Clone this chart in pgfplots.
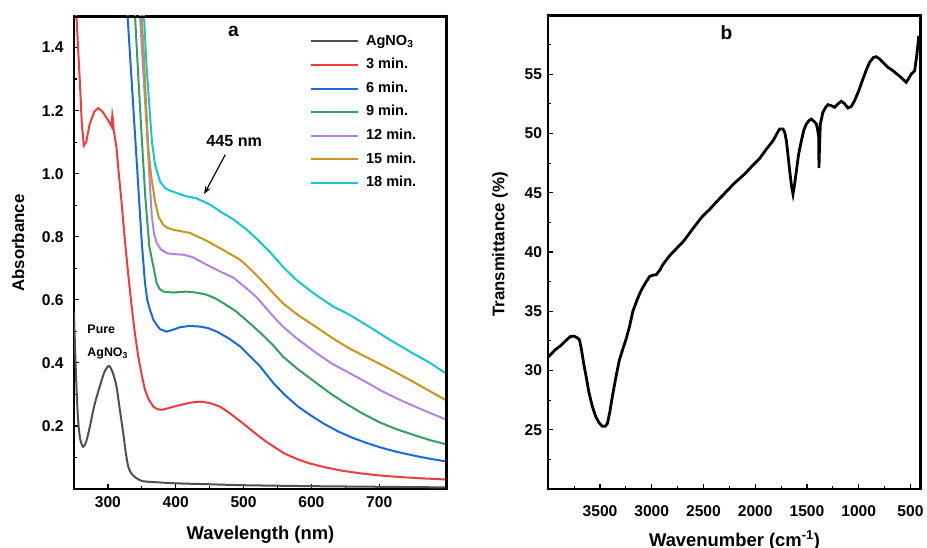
\documentclass[border=0pt]{standalone}
\usepackage{fontspec}
\setmainfont{Liberation Sans}
\usepackage{pgfplots}
\pgfplotsset{compat=1.18}
\usetikzlibrary{arrows.meta}
\definecolor{cgray}{RGB}{80,80,80}
\definecolor{cred}{RGB}{240,60,60}
\definecolor{cblue}{RGB}{25,105,225}
\definecolor{cgreen}{RGB}{50,160,95}
\definecolor{cpurple}{RGB}{180,130,225}
\definecolor{cgold}{RGB}{200,150,25}
\definecolor{ccyan}{RGB}{20,200,205}
\pgfplotsset{
  common/.style={
    scale only axis,
    axis line style={black, line width=1.3pt},
    tick style={line width=0.9pt, black},
    tick align=inside,
    xtick pos=bottom, ytick pos=left,
    major tick length=3.75pt, minor tick length=2.25pt,
    /pgf/number format/assume math mode=true,
    ticklabel style={font=\bfseries\fontsize{11.7}{13}\selectfont},
    clip=true,
  }
}
\begin{document}
\begin{tikzpicture}
\useasboundingbox (0,0) rectangle (695.25pt,411pt);
% ---------------- panel a ----------------
\begin{axis}[common,
  name=pa,
  at={(55.5pt,44.25pt)}, anchor=south west,
  width=279.75pt, height=354.75pt,
  xmin=250, xmax=800, ymin=0, ymax=1.5,
  xtick={300,400,500,600,700},
  minor xtick={350,450,550,650,750},
  ytick={0.2,0.4,0.6,0.8,1.0,1.2,1.4},
  minor ytick={0.1,0.3,0.5,0.7,0.9,1.1,1.3},
  yticklabel style={/pgf/number format/.cd, fixed, fixed zerofill, precision=1},
  xticklabel shift=2.5pt, yticklabel shift=4.3pt,
  xlabel={\bfseries\fontsize{13.8}{15}\selectfont Wavelength (nm)},
  ylabel={\bfseries\fontsize{12.6}{14}\selectfont Absorbance},
  xlabel style={at={(axis description cs:0.5,-0.0973)}, anchor=center},
  ylabel style={at={(axis description cs:-0.150,0.520)}, anchor=center},
  legend style={draw=none, fill=none, inner sep=0pt, outer sep=0pt,
    at={(axis description cs:0.633,0.961)}, anchor=north west,
    font=\bfseries\fontsize{10.9}{12}\selectfont,
    nodes={inner sep=0pt, text height=8pt, text depth=2.5pt},
    row sep=7.2pt, column sep=5.5pt},
  legend cell align=left,
  legend image code/.code={\draw[#1] (0pt,0pt) -- (35pt,0pt);},
]
\addplot[cgray, line width=1.5pt, smooth] coordinates {
(250,0.56) (251.5,0.45) (253.5,0.33) (256,0.22) (259,0.16) (263.5,0.134) (268,0.15)
(273.4,0.198) (280,0.265) (288,0.325) (295,0.372) (301.5,0.390) (307,0.37) (312.7,0.325)
(317,0.26) (322.6,0.177) (326,0.12) (330,0.071) (335,0.048) (342.3,0.034) (351,0.025)
(367,0.022) (400,0.018) (450,0.015) (500,0.012) (600,0.009) (700,0.007) (800,0.005)};
\addlegendentry{AgNO\textsubscript{3}}
\addplot[cred, line width=1.5pt] coordinates {
(250,1.62) (253.6,1.5) (258.6,1.293) (261.5,1.16) (264.5,1.089) (268,1.1) (273,1.156)
(280,1.197) (285.7,1.208) (292,1.197) (298,1.177) (303,1.16) (305.3,1.15) (306.5,1.185)
(307.5,1.17) (308.5,1.14) (312.7,1.082) (316,1.0) (320,0.912) (325,0.79) (330,0.68)
(335,0.579) (340,0.49) (344.8,0.42) (350,0.36) (354.7,0.314) (360,0.285) (367,0.261)
(373,0.253) (379,0.251) (387,0.255) (396.5,0.261) (410,0.268) (422,0.274) (436,0.277)
(450,0.273) (465.6,0.261) (480,0.24) (495,0.215) (505,0.198) (520,0.172) (533.5,0.150)
(544,0.135) (560,0.113) (580,0.094) (597.6,0.081) (620,0.069) (645,0.058) (671.5,0.050)
(700,0.043) (730,0.038) (760,0.034) (800,0.030)};
\addlegendentry{3 min.}
\addplot[cblue, line width=1.5pt] coordinates {
(325,1.64) (329,1.5) (350,0.78) (354.7,0.653) (358,0.6) (362,0.568) (367,0.537)
(372,0.52) (376.9,0.507) (386.6,0.499) (396,0.505) (406.4,0.513) (420,0.517) (436,0.515)
(448,0.51) (460.6,0.499) (478,0.478) (495,0.452) (510,0.42) (524.7,0.388) (544,0.336)
(560,0.300) (580,0.262) (600,0.232) (620,0.205) (640,0.182) (660,0.163) (680,0.147)
(700,0.133) (720,0.121) (740,0.111) (760,0.102) (780,0.094) (800,0.087)};
\addlegendentry{6 min.}
\addplot[cgreen, line width=1.5pt] coordinates {
(336,1.65) (340,1.5) (345,1.3) (350,1.11) (355,0.93) (361,0.77) (367,0.706)
(371.9,0.653) (376,0.635) (381.7,0.626) (396.5,0.623) (416,0.626) (430,0.623)
(445.7,0.616) (458,0.605) (470.4,0.589) (488,0.565) (508.9,0.526) (525,0.495)
(544,0.455) (558,0.42) (580,0.38) (607.5,0.336) (630,0.300) (650,0.272) (675,0.24)
(700,0.212) (725,0.19) (750,0.172) (775,0.155) (800,0.141)};
\addlegendentry{9 min.}
\addplot[cpurple, line width=1.5pt] coordinates {
(343,1.65) (347.3,1.5) (352,1.33) (357,1.15) (361,1.0) (364.5,0.87) (368,0.81)
(372,0.78) (378,0.76) (386.6,0.748) (395,0.745) (411.3,0.743) (425,0.735) (445.7,0.711)
(465,0.69) (485.2,0.670) (508.9,0.628) (519.7,0.607) (544,0.547) (558,0.515) (580,0.475)
(607.5,0.431) (630,0.398) (656.7,0.367) (680,0.34) (701,0.314) (730,0.283) (765,0.25)
(800,0.219)};
\addlegendentry{12 min.}
\addplot[cgold, line width=1.5pt] coordinates {
(346,1.62) (349.7,1.5) (353,1.38) (356,1.23) (359.6,1.081) (364,0.99) (369.5,0.912)
(375,0.862) (381.7,0.838) (388,0.828) (396.5,0.822) (421,0.812) (445.7,0.787)
(455.7,0.775) (470,0.758) (495,0.727) (508.9,0.70) (525,0.665) (544,0.621) (558,0.589)
(580,0.552) (607.5,0.513) (630,0.48) (656.7,0.445) (685,0.414) (715.8,0.380) (740,0.352)
(765,0.322) (800,0.28)};
\addlegendentry{15 min.}
\addplot[ccyan, line width=1.5pt] coordinates {
(350,1.62) (353.2,1.5) (357,1.34) (362,1.187) (365,1.1) (369.5,1.029) (376.9,0.975)
(384,0.955) (391.6,0.946) (416,0.928) (430,0.922) (440.9,0.912) (452,0.9) (465.6,0.880)
(485,0.855) (505,0.822) (520,0.792) (539.5,0.75) (558,0.705) (577.9,0.663) (605,0.618)
(632,0.579) (656.7,0.552) (685,0.515) (715.8,0.473) (750,0.43) (775,0.40) (794.6,0.372)
(800,0.365)};
\addlegendentry{18 min.}
\node[font=\bfseries\fontsize{14.4}{16}\selectfont] at (axis cs:485.2,1.452) {a};
\node[font=\bfseries\fontsize{12.1}{14}\selectfont] at (axis cs:486.3,1.103) {445 nm};
\draw[-{Stealth[length=6pt,width=4.5pt]}, line width=0.9pt] (axis cs:473,1.060) -- (axis cs:441.9,0.935);
\node[font=\bfseries\fontsize{9.3}{11}\selectfont, anchor=west, inner sep=0pt] at (axis cs:269.5,0.507) {Pure};
\node[font=\bfseries\fontsize{9.3}{11}\selectfont, anchor=west, inner sep=0pt] at (axis cs:269.5,0.431) {AgNO\textsubscript{3}};
\end{axis}
% ---------------- panel b ----------------
\begin{axis}[common,
  name=pb,
  at={(411.2pt,44.25pt)}, anchor=south west,
  width=279.4pt, height=355.5pt,
  x dir=reverse,
  xmin=400, xmax=4000, ymin=20, ymax=60,
  xtick={500,1000,1500,2000,2500,3000,3500},
  minor xtick={750,1250,1750,2250,2750,3250,3750},
  ytick={25,30,35,40,45,50,55},
  minor ytick={22.5,27.5,32.5,37.5,42.5,47.5,52.5,57.5},
  xticklabel style={/pgf/number format/set thousands separator={}},
  xticklabel shift=8.9pt, yticklabel shift=1.1pt,
  xlabel={\bfseries\fontsize{13.8}{15}\selectfont Wavenumber (cm\textsuperscript{-1})},
  ylabel={\bfseries\fontsize{12.6}{14}\selectfont Transmittance (\%)},
  xlabel style={at={(axis description cs:0.5,-0.1076)}, anchor=center},
  ylabel style={at={(axis description cs:-0.1297,0.516)}, anchor=center},
]
\addplot[black, line width=2.1pt] coordinates {
(4000,31.15) (3934,31.74) (3880,32.1) (3836,32.48) (3787,32.86) (3750,32.9) (3722,32.77)
(3699,32.6) (3680,31.8) (3657,30.55) (3630,29.3) (3608,28.19) (3575,27.0) (3542,26.12)
(3510,25.6) (3477,25.29) (3450,25.3) (3428,25.53) (3405,26.5) (3379,27.89) (3345,29.5)
(3314,30.85) (3280,31.8) (3249,32.62) (3215,33.7) (3183,34.99) (3140,36.0) (3102,36.76)
(3060,37.4) (3020,37.94) (2985,38.05) (2955,38.09) (2920,38.5) (2890,38.98) (2824,39.72)
(2760,40.3) (2694,40.9) (2600,42.0) (2514,42.97) (2440,43.6) (2367,44.3) (2290,45.0)
(2204,45.78) (2100,46.6) (2025,47.3) (1957,47.9) (1890,48.7) (1828,49.39) (1790,50.0)
(1764,50.38) (1732,50.38) (1715,50.1) (1699,49.39) (1685,48.3) (1667,46.86) (1650,45.6)
(1635,44.89) (1620,45.7) (1602,46.86) (1580,48.3) (1554,49.39) (1530,50.3) (1506,50.8)
(1480,51.1) (1457,51.22) (1430,51.0) (1409,50.8) (1395,50.2) (1387,49.68) (1384,47.09)
(1380,48.5) (1371,50.8) (1346,51.79) (1320,52.2) (1297,52.43) (1265,52.35) (1233,52.21)
(1200,52.5) (1168,52.72) (1135,52.5) (1104,52.15) (1070,52.3) (1040,52.77) (1000,53.6)
(959,54.6) (925,55.4) (895,56.0) (860,56.4) (830,56.48) (800,56.3) (766,56.0) (720,55.6)
(670,55.3) (600,54.8) (541,54.32) (520,54.6) (492,55.02) (460,55.3) (440,56.5) (419,58.25)};
\node[font=\bfseries\fontsize{14.4}{16}\selectfont] at (axis cs:2278,58.48) {b};
\end{axis}
\draw[black, line width=1.6pt, line cap=rect] ([yshift=-0.5pt]pa.north west) -- ([xshift=-0.5pt,yshift=-0.5pt]pa.north east) -- ([xshift=-0.5pt]pa.south east);
\draw[black, line width=1.6pt, line cap=rect] ([yshift=-0.5pt]pb.north west) -- ([xshift=-0.5pt,yshift=-0.5pt]pb.north east) -- ([xshift=-0.5pt]pb.south east);
\end{tikzpicture}
\end{document}
